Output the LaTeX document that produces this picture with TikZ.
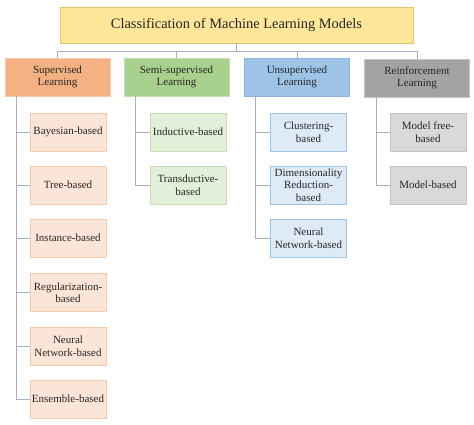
\documentclass[tikz,border=0pt]{standalone}
\usepackage{fontspec}
\setmainfont{Liberation Serif}
\definecolor{titlefill}{HTML}{FFE699}
\definecolor{titleline}{HTML}{E2C56A}
\definecolor{supfill}{HTML}{F4B183}
\definecolor{supline}{HTML}{F8CBAD}
\definecolor{suplight}{HTML}{FBE5D6}
\definecolor{semifill}{HTML}{A9D18E}
\definecolor{semiline}{HTML}{C5E0B4}
\definecolor{semilight}{HTML}{E2F0D9}
\definecolor{unsfill}{HTML}{9DC3E6}
\definecolor{unsline}{HTML}{8EB4E3}
\definecolor{unslight}{HTML}{DEEBF7}
\definecolor{reinfill}{HTML}{A5A3A2}
\definecolor{reinline}{HTML}{C4C4C4}
\definecolor{reinlight}{HTML}{D9D9D9}
\definecolor{wire}{HTML}{A4AEC6}
\begin{document}
\begin{tikzpicture}[x=1pt,y=-1pt]
		\tikzset{box/.style = {shape=rectangle,draw,line width=0.8pt,align=center,inner sep=1pt,text=black!85,font=\fontsize{11}{12.5}\selectfont}}
		\tikzset{cat/.style = {box,minimum width=105pt,minimum height=38pt}}
		\tikzset{leaf/.style = {box,minimum width=76pt,minimum height=38pt}}
		\tikzset{wire/.style = {draw=wire,line width=0.8pt}}
		\useasboundingbox (0,0) rectangle (474,424);
		\node[box,fill=titlefill,draw=titleline,minimum width=353pt,minimum height=36pt,font=\fontsize{14.4}{16}\selectfont] (title) at (236.5,25) {Classification of Machine Learning Models};
		\node[cat,fill=supfill,draw=supline] (sup) at (57.5,77) {Supervised\\Learning};
		\node[cat,fill=semifill,draw=semiline] (semi) at (176.5,77) {Semi-supervised\\Learning};
		\node[cat,fill=unsfill,draw=unsline] (uns) at (297,77) {Unsupervised\\Learning};
		\node[cat,fill=reinfill,draw=reinline] (rein) at (417,78) {Reinforcement\\Learning};
		% supervised
		\node[leaf,fill=suplight,draw=supline] (s1) at (68,132) {Bayesian-based};
		\node[leaf,fill=suplight,draw=supline] (s2) at (68,185) {Tree-based};
		\node[leaf,fill=suplight,draw=supline] (s3) at (68,238) {Instance-based};
		\node[leaf,fill=suplight,draw=supline] (s4) at (68,292.5) {Regularization-\\based};
		\node[leaf,fill=suplight,draw=supline] (s5) at (68,346) {Neural\\Network-based};
		\node[leaf,fill=suplight,draw=supline] (s6) at (68,399) {Ensemble-based};
		% semi-supervised
		\node[leaf,fill=semilight,draw=semiline] (m1) at (188,132) {Inductive-based};
		\node[leaf,fill=semilight,draw=semiline] (m2) at (188,185) {Transductive-\\based};
		% unsupervised
		\node[leaf,fill=unslight,draw=unsfill] (u1) at (308.5,132) {Clustering-\\based};
		\node[leaf,fill=unslight,draw=unsfill] (u2) at (308.5,185) {Dimensionality\\Reduction-\\based};
		\node[leaf,fill=unslight,draw=unsfill] (u3) at (308.5,238) {Neural\\Network-based};
		% reinforcement
		\node[leaf,fill=reinlight,draw=reinline] (r1) at (428,132) {Model free-\\based};
		\node[leaf,fill=reinlight,draw=reinline] (r2) at (428,185) {Model-based};
		\coordinate (bus) at (236.5,51);
		\path[wire] (title.south) -- (bus);
		\foreach \c in {sup,semi,uns,rein}
			\path[wire] (bus) -| (\c.north);
		\foreach \c in {s1,s2,s3,s4,s5,s6}
			\path[wire] ([xshift=-41.5pt]sup.south) |- (\c.west);
		\foreach \c in {m1,m2}
			\path[wire] ([xshift=-41.5pt]semi.south) |- (\c.west);
		\foreach \c in {u1,u2,u3}
			\path[wire] ([xshift=-42pt]uns.south) |- (\c.west);
		\foreach \c in {r1,r2}
			\path[wire] ([xshift=-41pt]rein.south) |- (\c.west);
	\end{tikzpicture}
\end{document}
